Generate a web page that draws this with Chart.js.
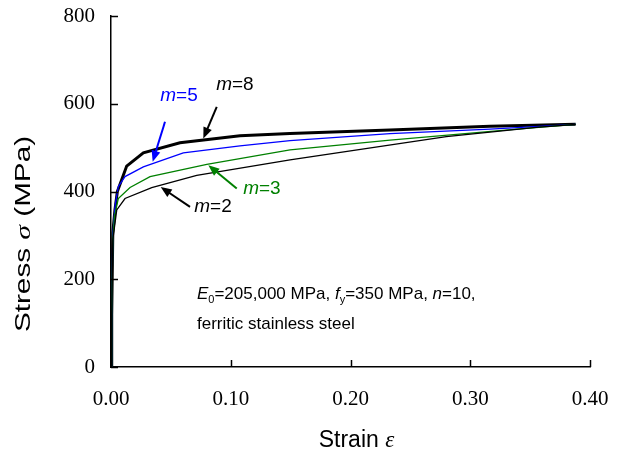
<!DOCTYPE html>
<html>
<head>
<meta charset="utf-8">
<script src="https://cdn.jsdelivr.net/npm/chart.js@4.4.1/dist/chart.umd.min.js"></script>
<style>
  body { margin: 0; background: #fff; }
  canvas { display: block; }
</style>
</head>
<body>
<canvas id="curves" width="619" height="454"></canvas>
<script>
// strain / stress, one pair of arrays per curve
var strainM2 = [0, 0.0006, 0.0015, 0.0048, 0.0117, 0.034, 0.0716, 0.1495, 0.28, 0.355, 0.388],
    stressM2 = [0, 120, 290, 358, 384, 409, 437, 472, 525, 546, 553],
    strainM3 = [0, 0.0006, 0.0015, 0.003, 0.0061, 0.0159, 0.0326, 0.08, 0.1495, 0.233, 0.339, 0.388],
    stressM3 = [0, 120, 290, 345, 384, 409, 434, 462, 495, 517, 542, 553],
    strainM5 = [0, 0.0006, 0.0015, 0.0035, 0.0061, 0.0117, 0.027, 0.0604, 0.1077, 0.1495, 0.233, 0.3165, 0.388],
    stressM5 = [0, 120, 300, 370, 411, 434, 456, 488, 504, 516, 532, 542, 553],
    strainM8 = [0, 0.0006, 0.0015, 0.0033, 0.0053, 0.0131, 0.027, 0.0576, 0.1077, 0.1495, 0.233, 0.3165, 0.388],
    stressM8 = [0, 120, 305, 358, 400, 458, 488, 511, 527, 532, 540, 549, 553],
    xTicks = ['0.00', '0.10', '0.20', '0.30', '0.40'],
    yTicks = ['0', '200', '400', '600', '800'];

// m labels and their arrows, in data units: [label strain, label stress, tail strain, tail stress, tip strain, tip stress]
var labelM8 = [0.1035, 645, 0.0883, 593, 0.0771, 521],
    labelM5 = [0.0568, 620, 0.0451, 559, 0.0348, 468],
    labelM3 = [0.126, 408, 0.105, 407, 0.0813, 460],
    labelM2 = [0.0852, 367, 0.066, 365, 0.0415, 410];

function pairs(xs, ys) {
    var out = [];
    for (var i = 0; i < xs.length; i++) out.push({x: xs[i], y: ys[i]});
    return out;
}

function curve(xs, ys, color, width) {
    return {
        data: pairs(xs, ys),
        showLine: true,
        borderColor: color,
        borderWidth: width,
        pointRadius: 0,
        tension: 0,
        fill: false
    };
}

var SANS = 'Arial, "Liberation Sans", sans-serif',
    SERIF = '"Times New Roman", "Liberation Serif", serif';

// draws a run of text pieces {t, it, sub}, starting at x (or centered on it)
function rich(ctx, parts, x, y, size, color, center) {
    var w = 0, i, p;
    function font(p) {
        var s = p.sub ? Math.round(size * 0.65) : size;
        return (p.it ? 'italic ' : '') + s + 'px ' + (p.serif ? SERIF : SANS);
    }
    for (i = 0; i < parts.length; i++) {
        ctx.font = font(parts[i]);
        w += ctx.measureText(parts[i].t).width;
    }
    if (center) x -= w / 2;
    ctx.fillStyle = color;
    ctx.textBaseline = 'alphabetic';
    ctx.textAlign = 'left';
    for (i = 0; i < parts.length; i++) {
        p = parts[i];
        ctx.font = font(p);
        ctx.fillText(p.t, x, y + (p.sub ? size * 0.22 : 0));
        x += ctx.measureText(p.t).width;
    }
}

function arrow(ctx, x0, y0, x1, y1, color) {
    var a = Math.atan2(y1 - y0, x1 - x0), len = 11, hw = 4.5;
    ctx.strokeStyle = color;
    ctx.fillStyle = color;
    ctx.lineWidth = 2;
    ctx.beginPath();
    ctx.moveTo(x0, y0);
    ctx.lineTo(x1 - Math.cos(a) * len * 0.8, y1 - Math.sin(a) * len * 0.8);
    ctx.stroke();
    ctx.beginPath();
    ctx.moveTo(x1, y1);
    ctx.lineTo(x1 - Math.cos(a) * len - Math.sin(a) * hw, y1 - Math.sin(a) * len + Math.cos(a) * hw);
    ctx.lineTo(x1 - Math.cos(a) * len + Math.sin(a) * hw, y1 - Math.sin(a) * len - Math.cos(a) * hw);
    ctx.closePath();
    ctx.fill();
}

var extras = {
    id: 'extras',
    afterDraw: function(chart) {
        var ctx = chart.ctx,
            xs = chart.scales.x,
            ys = chart.scales.y,
            area = chart.chartArea;
        ctx.save();

        // inward tick marks
        ctx.strokeStyle = '#000';
        ctx.lineWidth = 1.5;
        xs.ticks.forEach(function(t) {
            var px = Math.round(xs.getPixelForValue(t.value)) + 0.5;
            ctx.beginPath();
            ctx.moveTo(px, area.bottom);
            ctx.lineTo(px, area.bottom - 7);
            ctx.stroke();
        });
        ys.ticks.forEach(function(t) {
            var py = Math.round(ys.getPixelForValue(t.value)) + 0.5;
            ctx.beginPath();
            ctx.moveTo(area.left, py);
            ctx.lineTo(area.left + 7, py);
            ctx.stroke();
        });

        // m labels with arrows
        [[labelM8, '8', '#000'], [labelM5, '5', '#0000ff'], [labelM3, '3', '#008000'], [labelM2, '2', '#000']].forEach(function(l) {
            var d = l[0];
            rich(ctx, [{t: 'm', it: true}, {t: '=' + l[1]}], xs.getPixelForValue(d[0]), ys.getPixelForValue(d[1]) + 6, 19, l[2], true);
            arrow(ctx, xs.getPixelForValue(d[2]), ys.getPixelForValue(d[3]), xs.getPixelForValue(d[4]), ys.getPixelForValue(d[5]), l[2]);
        });

        // material note
        var nx = xs.getPixelForValue(0.0718);
        rich(ctx, [{t: 'E', it: true}, {t: '0', sub: true}, {t: '=205,000 MPa, '}, {t: 'f', it: true}, {t: 'y', sub: true},
                   {t: '=350 MPa, '}, {t: 'n', it: true}, {t: '=10,'}], nx, ys.getPixelForValue(169) + 6, 17, '#000', false);
        rich(ctx, [{t: 'ferritic stainless steel'}], nx, ys.getPixelForValue(100) + 6, 17, '#000', false);

        // axis titles
        rich(ctx, [{t: 'Strain '}, {t: '\u03b5', it: true, serif: true}], (area.left + area.right) / 2 + 6, 447, 23, '#000', true);
        ctx.translate(30, 234);
        ctx.rotate(-Math.PI / 2);
        ctx.scale(1.35, 1);
        rich(ctx, [{t: 'Stress '}, {t: '\u03c3', it: true, serif: true}, {t: ' (MPa)'}], 0, 0, 22, '#000', true);

        ctx.restore();
    }
};

var tickFont = {family: SERIF, size: 21};

new Chart(document.getElementById('curves').getContext('2d'), {
    type: 'scatter',
    data: {
        datasets: [
            curve(strainM2, stressM2, '#000', 1.3),
            curve(strainM3, stressM3, '#008000', 1.3),
            curve(strainM5, stressM5, '#0000ff', 1.3),
            curve(strainM8, stressM8, '#000', 3)
        ]
    },
    options: {
        responsive: false,
        animation: false,
        layout: {padding: {top: 16, right: 29, left: 0, bottom: 0}},
        plugins: {legend: {display: false}, tooltip: {enabled: false}},
        scales: {
            x: {
                type: 'linear', min: 0, max: 0.4,
                ticks: {stepSize: 0.1, color: '#000', font: tickFont, padding: 20, maxRotation: 0,
                        callback: function(v, i) { return xTicks[i]; }},
                grid: {display: false, drawTicks: false},
                border: {color: '#000', width: 1.5},
                afterFit: function(s) { s.height = 87; s.paddingLeft = 0; s.paddingRight = 0; }
            },
            y: {
                type: 'linear', min: 0, max: 800,
                ticks: {stepSize: 200, color: '#000', font: tickFont, padding: 16,
                        callback: function(v, i) { return yTicks[i]; }},
                grid: {display: false, drawTicks: false},
                border: {color: '#000', width: 1.5},
                afterFit: function(s) { s.width = 111; s.paddingTop = 0; s.paddingBottom = 0; }
            }
        }
    },
    plugins: [extras]
});
</script>
</body>
</html>
